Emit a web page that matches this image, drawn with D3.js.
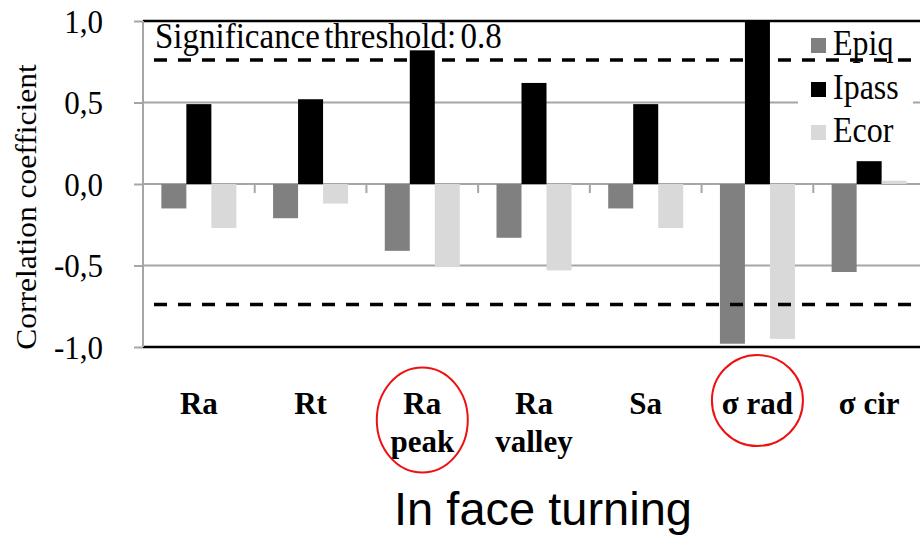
<!DOCTYPE html>
<html>
<head>
<meta charset="utf-8">
<script src="https://cdn.jsdelivr.net/npm/d3@7"></script>
<style>
  html, body { margin: 0; padding: 0; background: #fff; }
  svg { display: block; }
</style>
</head>
<body>
<svg id="chart" width="920" height="537"></svg>
<script>
// ---- data ----
const categories = ["Ra", "Rt", "Ra peak", "Ra valley", "Sa", "σ rad", "σ cir"];
const categoryLines = [["Ra"], ["Rt"], ["Ra", "peak"], ["Ra", "valley"], ["Sa"], ["σ rad"], ["σ cir"]];
const seriesNames = ["Epiq", "Ipass", "Ecor"];
const epiq  = [-0.15, -0.21, -0.41, -0.33, -0.15, -0.98, -0.54];
const ipass = [ 0.49,  0.52,  0.82,  0.62,  0.49,  1.00,  0.14];
const ecor  = [-0.27, -0.12, -0.51, -0.53, -0.27, -0.95,  0.02];
const yTicks = [-1, -0.5, 0, 0.5, 1];
const yTickLabels = ["-1,0", "-0,5", "0,0", "0,5", "1,0"];
const thresholds = [0.76, -0.74];
const highlighted = ["Ra peak", "σ rad"];
const colors = ["#808080", "#000000", "#d9d9d9"];

const seriesValues = [epiq, ipass, ecor];

// ---- layout ----
const svg = d3.select("#chart");
const x0 = d3.scaleBand().domain(categories).range([143, 925]);
const x1 = d3.scaleBand().domain(seriesNames).range([0, x0.bandwidth()]).paddingOuter(0.734);
const y = d3.scaleLinear().domain([-1, 1]).range([347, 21]);
const right = 920;
const serif = "'Liberation Serif', 'Times New Roman', serif";

// gridlines (grey) at interior ticks
svg.append("g").selectAll("line")
  .data(yTicks.filter(d => Math.abs(d) < 1))
  .join("line")
  .attr("x1", x0.range()[0]).attr("x2", right)
  .attr("y1", d => y(d)).attr("y2", d => y(d))
  .attr("stroke", "#a6a6a6").attr("stroke-width", 2);

// bars
const barData = [];
categories.forEach((c, i) => {
  seriesNames.forEach((s, j) => barData.push({ c, s, v: seriesValues[j][i], color: colors[j] }));
});
svg.append("g").selectAll("rect")
  .data(barData)
  .join("rect")
  .attr("x", d => x0(d.c) + x1(d.s))
  .attr("width", x1.bandwidth())
  .attr("y", d => y(Math.max(0, d.v)))
  .attr("height", d => Math.abs(y(d.v) - y(0)))
  .attr("fill", d => d.color);

// category separator ticks below zero line
svg.append("g").selectAll("line")
  .data(categories.slice(1))
  .join("line")
  .attr("x1", d => x0(d)).attr("x2", d => x0(d))
  .attr("y1", y(0)).attr("y2", y(0) + 9)
  .attr("stroke", "#a6a6a6").attr("stroke-width", 2);

// top and bottom borders
svg.append("g").selectAll("line")
  .data([1, -1])
  .join("line")
  .attr("x1", x0.range()[0]).attr("x2", right)
  .attr("y1", d => y(d)).attr("y2", d => y(d))
  .attr("stroke", "#000").attr("stroke-width", 2.5);

// y axis
const yAxis = d3.axisLeft(y)
  .tickValues(yTicks)
  .tickFormat((d, i) => yTickLabels[i])
  .tickSize(9)
  .tickPadding(31);
const ya = svg.append("g").attr("transform", `translate(${x0.range()[0]},0)`).call(yAxis);
ya.select(".domain").attr("stroke", "#a6a6a6").attr("stroke-width", 2).attr("d", `M0,${y(1)}V${y(-1)}`);
ya.selectAll(".tick line").attr("stroke", "#a6a6a6").attr("stroke-width", 2);
ya.selectAll(".tick text")
  .attr("font-family", serif).attr("font-size", 31).attr("fill", "#000")
  .attr("dy", "0.34em")
  .attr("transform", "scale(1,1.08)");

// y axis title
svg.append("text")
  .attr("transform", `translate(36,207) rotate(-90) scale(1.05,1)`)
  .attr("text-anchor", "middle")
  .attr("font-family", serif).attr("font-size", 30)
  .text("Correlation coefficient");

// legend
const lg = svg.append("g");
lg.append("rect").attr("x", 798).attr("y", 30).attr("width", 115).attr("height", 120).attr("fill", "#fff");
const rowY = [38, 82, 125];
seriesNames.forEach((s, j) => {
  lg.append("rect").attr("x", 811).attr("y", rowY[j]).attr("width", 15).attr("height", 15).attr("fill", colors[j]);
  lg.append("text")
    .attr("transform", `translate(833,${rowY[j] + 17}) scale(1,1.1)`)
    .attr("font-family", serif).attr("font-size", 32).text(s);
});

// threshold dashed lines
svg.append("g").selectAll("line")
  .data(thresholds)
  .join("line")
  .attr("x1", 154).attr("x2", right)
  .attr("y1", d => y(d)).attr("y2", d => y(d))
  .attr("stroke", "#000").attr("stroke-width", 3.5)
  .attr("stroke-dasharray", "13,11");

// threshold label
svg.append("text")
  .attr("transform", "translate(155,48) scale(1,1.06)")
  .attr("font-family", serif).attr("font-size", 33)
  .attr("word-spacing", -4)
  .text("Significance threshold: 0.8");

// category labels
const cl = svg.append("g").selectAll("text")
  .data(categories)
  .join("text")
  .attr("text-anchor", "middle")
  .attr("font-family", serif).attr("font-weight", "bold").attr("font-size", 31);
cl.each(function (d, i) {
  const cx = x0(d) + x0.bandwidth() / 2;
  d3.select(this).selectAll("tspan")
    .data(categoryLines[i])
    .join("tspan")
    .attr("x", cx)
    .attr("y", (t, k) => 414 + k * 38)
    .text(t => t);
});

// red highlight ellipses
const ellipseSpec = { "Ra peak": { cy: 420, rx: 45.5, ry: 52.5 }, "σ rad": { cy: 400.5, rx: 45.5, ry: 45.5 } };
svg.append("g").selectAll("ellipse")
  .data(highlighted)
  .join("ellipse")
  .attr("cx", d => x0(d) + x0.bandwidth() / 2)
  .attr("cy", d => ellipseSpec[d].cy)
  .attr("rx", d => ellipseSpec[d].rx)
  .attr("ry", d => ellipseSpec[d].ry)
  .attr("fill", "none").attr("stroke", "#ee1111").attr("stroke-width", 2);

// caption
svg.append("text")
  .attr("x", 543).attr("y", 525)
  .attr("text-anchor", "middle")
  .attr("font-family", "'Liberation Sans', Arial, sans-serif").attr("font-size", 47)
  .text("In face turning");
</script>
</body>
</html>
